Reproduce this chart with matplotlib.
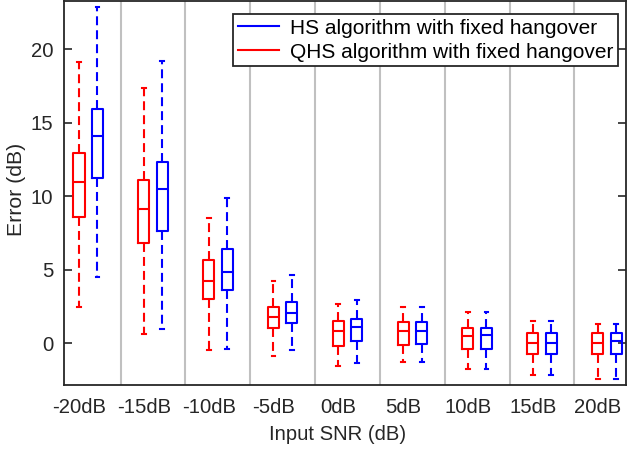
import numpy as np
import matplotlib
matplotlib.use("Agg")
import matplotlib.pyplot as plt
from matplotlib.lines import Line2D

plt.rcParams['font.family'] = ['Liberation Sans', 'DejaVu Sans']

snr_labels = ['-20dB', '-15dB', '-10dB', '-5dB', '0dB', '5dB', '10dB', '15dB', '20dB']

# QHS algorithm with fixed hangover (red)
qhs_whislo = [2.45, 0.63, -0.46, -0.84, -1.54, -1.27, -1.72, -2.18, -2.42]
qhs_q1 = [8.59, 6.80, 3.01, 1.06, -0.16, -0.14, -0.37, -0.73, -0.72]
qhs_med = [10.94, 9.13, 4.26, 1.81, 0.84, 0.82, 0.50, 0.00, 0.02]
qhs_q3 = [12.94, 11.12, 5.66, 2.47, 1.54, 1.43, 1.06, 0.72, 0.72]
qhs_whishi = [19.10, 17.33, 8.54, 4.21, 2.67, 2.45, 2.13, 1.52, 1.30]

# HS algorithm with fixed hangover (blue)
hs_whislo = [4.49, 0.95, -0.37, -0.46, -1.36, -1.25, -1.72, -2.18, -2.42]
hs_q1 = [11.22, 7.66, 3.60, 1.40, 0.16, -0.07, -0.37, -0.73, -0.72]
hs_med = [14.09, 10.49, 4.87, 2.08, 1.09, 0.84, 0.56, 0.05, 0.15]
hs_q3 = [15.93, 12.30, 6.39, 2.83, 1.65, 1.43, 1.06, 0.72, 0.72]
hs_whishi = [22.84, 19.17, 9.86, 4.64, 2.94, 2.45, 2.13, 1.52, 1.30]

FS = 14.6
TXT = '#262626'


def make_stats(whislo, q1, med, q3, whishi):
    return [dict(whislo=a, q1=b, med=c, q3=d, whishi=e, fliers=[])
            for a, b, c, d, e in zip(whislo, q1, med, q3, whishi)]


fig = plt.figure(figsize=(6.3, 4.53), dpi=100)
ax = fig.add_axes([0.1008, 0.150, 0.8921, 0.848])

n = len(snr_labels)
pos_red = np.arange(n, dtype=float)
offset = 0.285
pos_blue = pos_red + offset

# vertical separators between SNR groups
for x in pos_red[:-1] + (1 + offset) / 2:
    ax.axvline(x, color='#c0c0c0', lw=1.5, zorder=0)

for stats, pos, col in [(make_stats(qhs_whislo, qhs_q1, qhs_med, qhs_q3, qhs_whishi), pos_red, 'red'),
                        (make_stats(hs_whislo, hs_q1, hs_med, hs_q3, hs_whishi), pos_blue, 'blue')]:
    ax.bxp(stats, positions=pos, widths=0.17, showfliers=False, manage_ticks=False,
           capwidths=0.06,
           boxprops=dict(color=col, lw=1.5),
           medianprops=dict(color=col, lw=1.5),
           whiskerprops=dict(color=col, lw=1.5, linestyle=(0, (4.3, 2.4))),
           capprops=dict(color=col, lw=1.5))

ax.set_xlim(-0.239, 8.43)
ax.set_ylim(-2.83, 23.27)
ax.set_xticks(pos_red)
ax.set_xticklabels(snr_labels)
ax.set_yticks([0, 5, 10, 15, 20])
ax.tick_params(axis='x', length=0, pad=9, labelsize=FS, labelcolor=TXT)
ax.tick_params(axis='y', direction='in', length=6, width=1.2, right=True,
               labelsize=FS, color=TXT, labelcolor=TXT, pad=7.5)
for sp in ax.spines.values():
    sp.set_linewidth(1.3)
    sp.set_color(TXT)

ax.set_xlabel('Input SNR (dB)', fontsize=FS, color=TXT, labelpad=6)
ax.set_ylabel('Error (dB)', fontsize=FS * 1.05, color=TXT, labelpad=3.5)
ax.xaxis.label.set_x(0.487)
ax.yaxis.label.set_y(0.51)

handles = [Line2D([], [], color='blue', lw=1.5), Line2D([], [], color='red', lw=1.5)]
leg = ax.legend(handles, ['HS algorithm with fixed hangover', 'QHS algorithm with fixed hangover'],
                loc='upper right', bbox_to_anchor=(0.9867, 0.966), fontsize=15,
                fancybox=False, framealpha=1, edgecolor=TXT,
                handlelength=2.0, borderpad=0.23, labelspacing=0.235, handletextpad=0.5,
                borderaxespad=0)
leg.get_frame().set_linewidth(1.3)

fig.savefig('out.png', dpi=100)
